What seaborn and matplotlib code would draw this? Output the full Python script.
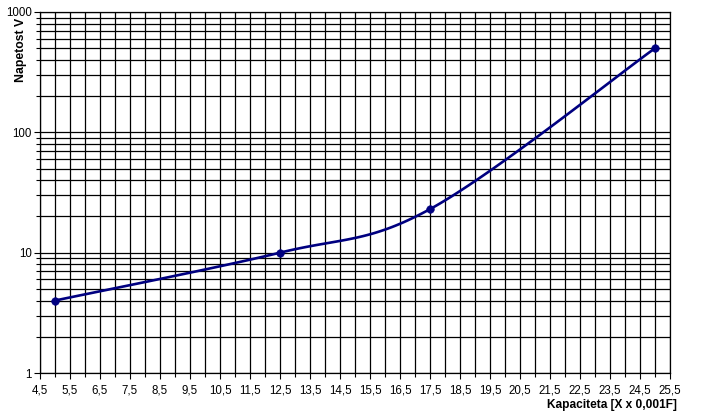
import numpy as np
import pandas as pd
import seaborn as sns
import matplotlib.pyplot as plt
from matplotlib.ticker import LogLocator, FixedLocator, FuncFormatter, NullFormatter

# measured points
kapaciteta = [5.0, 12.5, 17.5, 25.0]
napetost = [4.0, 10.0, 23.0, 500.0]

x_ticks = np.arange(4.5, 25.6, 1.0)
y_ticks = [1, 10, 100, 1000]

sns.set_style('white')
plt.rcParams['font.family'] = ['Liberation Sans', 'DejaVu Sans']
plt.rcParams['text.color'] = 'black'
plt.rcParams['xtick.color'] = 'black'
plt.rcParams['ytick.color'] = 'black'

df = pd.DataFrame({'x': kapaciteta, 'y': napetost})

# smoothed line like the spreadsheet does it (bezier through the points, log space)
px = np.array(kapaciteta)
py = np.log10(napetost)
sx, sy = [], []
n = len(px)
t = np.linspace(0, 1, 40)
for i in range(n - 1):
    p0 = (px[max(i - 1, 0)], py[max(i - 1, 0)])
    p1 = (px[i], py[i])
    p2 = (px[i + 1], py[i + 1])
    p3 = (px[min(i + 2, n - 1)], py[min(i + 2, n - 1)])
    c1 = (p1[0] + (p2[0] - p0[0]) / 6, p1[1] + (p2[1] - p0[1]) / 6)
    c2 = (p2[0] - (p3[0] - p1[0]) / 6, p2[1] - (p3[1] - p1[1]) / 6)
    bx = (1-t)**3*p1[0] + 3*(1-t)**2*t*c1[0] + 3*(1-t)*t**2*c2[0] + t**3*p2[0]
    by = (1-t)**3*p1[1] + 3*(1-t)**2*t*c1[1] + 3*(1-t)*t**2*c2[1] + t**3*p2[1]
    sx.extend(bx)
    sy.extend(10 ** by)
curve = pd.DataFrame({'x': sx, 'y': sy})

fig = plt.figure(figsize=(7.01, 4.13), dpi=100)
ax = fig.add_axes([40/701, 1-373/413, 630/701, 361/413])

sns.lineplot(data=curve, x='x', y='y', sort=False, color='#000080', lw=1.9, ax=ax, zorder=3)
sns.scatterplot(data=df, x='x', y='y', color='#000080', s=30, edgecolor='#000080', ax=ax, zorder=4)

ax.set_yscale('log')
ax.set_xlim(4.5, 25.5)
ax.set_ylim(1, 1000)

ax.xaxis.set_major_locator(FixedLocator(x_ticks))
ax.xaxis.set_minor_locator(FixedLocator(x_ticks[:-1] + 0.5))
ax.xaxis.set_major_formatter(FuncFormatter(lambda v, p: ('%.1f' % v).replace('.', ',')))
ax.yaxis.set_major_locator(FixedLocator(y_ticks))
ax.yaxis.set_minor_locator(LogLocator(base=10, subs=range(2, 10)))
ax.yaxis.set_major_formatter(FuncFormatter(lambda v, p: '%d' % v))
ax.yaxis.set_minor_formatter(NullFormatter())

ax.grid(which='both', color='black', lw=0.9)
ax.set_axisbelow(True)
ax.tick_params(which='both', direction='out', color='black', labelcolor='black', width=0.8,
               labelsize=8.3, bottom=True, left=True, pad=2)
ax.tick_params(axis='x', which='major', pad=4.5)
ax.tick_params(which='major', length=4)
ax.tick_params(which='minor', length=3)
for s in ax.spines.values():
    s.set_color('black')
    s.set_linewidth(0.9)

ax.set_xlabel('')
ax.set_ylabel('')
fig.text(677/701, 1-405/413, 'Kapaciteta [X x 0,001F]', ha='right', va='center',
         fontsize=8.6, fontweight='bold', color='black')
fig.text(21/701, 1-18/413, 'Napetost V', rotation=90, ha='center', va='top',
         fontsize=8.8, fontweight='bold', color='black')

plt.savefig('out.png', dpi=100)
